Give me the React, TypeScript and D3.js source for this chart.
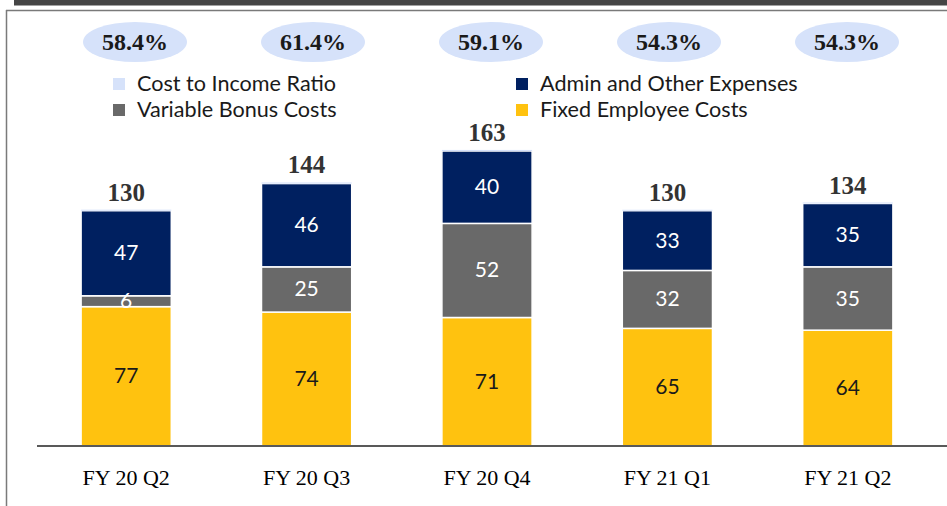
import React from "react";
import * as d3 from "d3";

const categories = ["FY 20 Q2", "FY 20 Q3", "FY 20 Q4", "FY 21 Q1", "FY 21 Q2"];
const fixedEmployee = [77, 74, 71, 65, 64];
const variableBonus = [6, 25, 52, 32, 35];
const adminOther = [47, 46, 40, 33, 35];
const totals = [130, 144, 163, 130, 134];
const costIncome = [58.4, 61.4, 59.1, 54.3, 54.3];

const seriesNames = ["Fixed Employee Costs", "Variable Bonus Costs", "Admin and Other Expenses", "Cost to Income Ratio"];
const colors: Record<string, string> = {
  "Fixed Employee Costs": "#FFC20F",
  "Variable Bonus Costs": "#696969",
  "Admin and Other Expenses": "#002060",
  "Cost to Income Ratio": "#D6E2FA",
};

const W = 947;
const H = 506;
const SANS = "Lato, 'Open Sans', sans-serif";
const SERIF = "'Liberation Serif', 'DejaVu Serif', serif";

export default function App() {
  const rows = categories.map((c, i) => ({
    cat: c,
    "Fixed Employee Costs": fixedEmployee[i],
    "Variable Bonus Costs": variableBonus[i],
    "Admin and Other Expenses": adminOther[i],
    "Cost to Income Ratio": costIncome[i] / 100,
  }));
  const stack = d3.stack<any>().keys(seriesNames)(rows);

  const x = d3.scaleBand().domain(categories).range([36, 938]).paddingInner(0.5).paddingOuter(0.25);
  const y = d3.scaleLinear().domain([0, 163]).range([446, 151]);
  const xe = d3.scalePoint().domain(categories).range([135, 847]);

  const legend = [
    { name: "Cost to Income Ratio", x: 112, y: 84 },
    { name: "Admin and Other Expenses", x: 515, y: 84 },
    { name: "Variable Bonus Costs", x: 112, y: 110 },
    { name: "Fixed Employee Costs", x: 515, y: 110 },
  ];

  return (
    <svg width={W} height={H} style={{ position: "absolute", left: 0, top: 0, display: "block", background: "#fff" }}>
      <rect x={14} y={0} width={W - 14} height={5.5} fill="#454545" />
      <line x1={6} x2={W} y1={10.5} y2={10.5} stroke="#7a7a7a" strokeWidth={1.5} />
      <line x1={6.5} x2={6.5} y1={10} y2={H} stroke="#7a7a7a" strokeWidth={1.5} />

      {categories.map((c, i) => (
        <g key={"e" + c}>
          <ellipse cx={xe(c)} cy={42} rx={52} ry={20} fill={colors["Cost to Income Ratio"]} />
          <text x={xe(c)} y={50} textAnchor="middle" fontFamily={SERIF} fontWeight="bold" fontSize={24} fill="#1a1a1a">
            {costIncome[i].toFixed(1)}%
          </text>
        </g>
      ))}

      {legend.map((l) => (
        <g key={l.name}>
          <rect x={l.x + 1} y={l.y - 6} width={12} height={12} fill={colors[l.name]} />
          <text x={l.x + 25} y={l.y + 7} fontFamily={SANS} fontSize={21.6} fill="#1a1a1a">
            {l.name}
          </text>
        </g>
      ))}

      {stack.map((s) => (
        <g key={s.key}>
          {s.map((d, i) => {
            const top = y(d[1]);
            const bot = y(d[0]);
            const isRatio = s.key === "Cost to Income Ratio";
            return (
              <rect
                key={i}
                x={x(categories[i])}
                y={top}
                width={x.bandwidth()}
                height={Math.max(0, bot - top)}
                fill={colors[s.key]}
                stroke={isRatio ? "none" : "#fff"}
                strokeWidth={1.5}
              />
            );
          })}
        </g>
      ))}

      {stack.slice(0, 3).map((s) => (
        <g key={"l" + s.key}>
          {s.map((d, i) => (
            <text
              key={i}
              x={(x(categories[i]) as number) + x.bandwidth() / 2}
              y={(y(d[1]) + y(d[0])) / 2 + 7}
              textAnchor="middle"
              fontFamily={SANS}
              fontSize={21}
              fill={s.key === "Fixed Employee Costs" ? "#1a1a1a" : "#fff"}
            >
              {d[1] - d[0]}
            </text>
          ))}
        </g>
      ))}

      {categories.map((c, i) => (
        <text
          key={"t" + c}
          x={(x(c) as number) + x.bandwidth() / 2}
          y={y(stack[3][i][1]) - 9}
          textAnchor="middle"
          fontFamily={SERIF}
          fontWeight="bold"
          fontSize={25}
          fill="#333"
        >
          {totals[i]}
        </text>
      ))}

      <line x1={37} x2={W} y1={446} y2={446} stroke="#595959" strokeWidth={2} />

      {categories.map((c) => (
        <text
          key={"c" + c}
          x={(x(c) as number) + x.bandwidth() / 2}
          y={485}
          textAnchor="middle"
          fontFamily={SERIF}
          fontSize={22}
          fill="#000"
        >
          {c}
        </text>
      ))}
    </svg>
  );
}
